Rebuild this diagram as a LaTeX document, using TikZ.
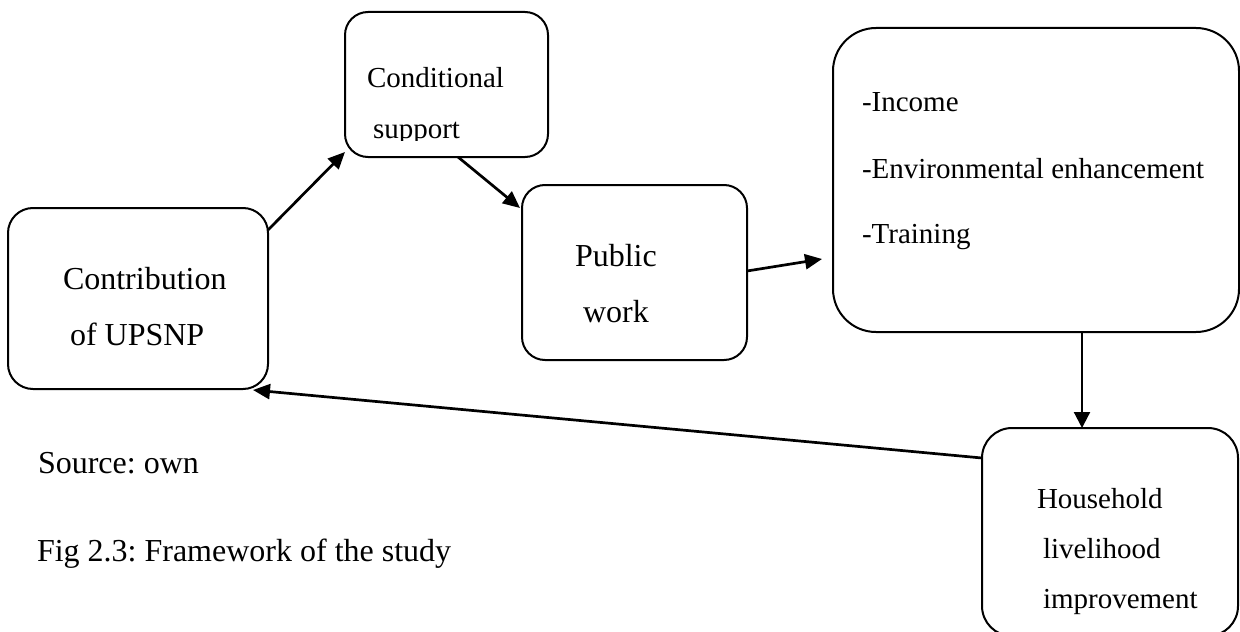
\documentclass[tikz,border=0pt]{standalone}
\usepackage{fontspec}
\setmainfont{Liberation Serif}
\usetikzlibrary{arrows.meta}
\frenchspacing
\begin{document}
\begin{tikzpicture}[x=0.5pt,y=-0.5pt,
  box/.style={draw=black,line width=1pt,rectangle,inner sep=0pt,outer sep=0pt},
  bigtxt/.style={inner sep=0pt,outer sep=0pt,anchor=base west,font=\fontsize{16pt}{19pt}\selectfont},
  smalltxt/.style={inner sep=0pt,outer sep=0pt,anchor=base west,font=\fontsize{14.5pt}{17pt}\selectfont},
  arr/.style={line width=1.35pt,-{Triangle[length=8.5pt,width=7.5pt]}},
  thinarr/.style={line width=1.1pt,-{Triangle[length=8pt,width=8pt]}}]
\useasboundingbox (0,0) rectangle (1240,631);
\clip (0,0) rectangle (1240,631);
% boxes
\node[box,rounded corners=12.5pt,minimum width=130pt,minimum height=90.5pt] (contrib) at (138,298.5) {};
\node[box,rounded corners=11.5pt,minimum width=101.5pt,minimum height=72.5pt] (cond) at (446.5,84.5) {};
\node[box,rounded corners=11.5pt,minimum width=112.5pt,minimum height=87.5pt] (public) at (634.5,272.5) {};
\node[box,rounded corners=21.5pt,minimum width=203pt,minimum height=152pt] (income) at (1036,180) {};
\node[box,rounded corners=15pt,minimum width=128pt,minimum height=104pt] (house) at (1110,532) {};
% texts
\node[bigtxt] (t1) at (63,289) {Contribution};
\node[bigtxt] (t2) at (70,345) {of UPSNP};
\node[smalltxt] (t3) at (367,88) {Conditional};
\begin{scope}
\clip (345,12) rectangle (548,140);
\node[smalltxt] (t4) at (373,138) {support};
\end{scope}
\node[bigtxt] (t5) at (575,266) {Public};
\node[bigtxt] (t6) at (583,322) {work};
\node[smalltxt] (t7) at (862,112) {-Income};
\node[smalltxt] (t8) at (862,178) {-Environmental enhancement};
\node[smalltxt] (t9) at (862,243) {-Training};
\node[smalltxt] (t10) at (1037,508) {Household};
\node[smalltxt] (t11) at (1043,558) {livelihood};
\node[smalltxt] (t12) at (1043,608) {improvement};
\node[bigtxt] (src) at (38,473) {Source: own};
\node[bigtxt] (fig) at (37,561) {Fig 2.3: Framework of the study};
% connectors
\draw[arr] ([yshift=-11pt]contrib.north east) -- ([yshift=2.5pt]cond.south west);
\draw[arr] ([xshift=5.75pt]cond.south) -- ([xshift=-1pt,yshift=-11.5pt]public.north west);
\draw[arr] ([yshift=0.75pt]public.east) -- ([xshift=-5.5pt,yshift=-39.5pt]income.west);
\draw[thinarr] ([xshift=23pt]income.south) -- ([xshift=-14pt]house.north);
\draw[arr] ([yshift=-15pt]house.north west) -- ([xshift=-7.5pt,yshift=-0.5pt]contrib.south east);
\end{tikzpicture}
\end{document}
